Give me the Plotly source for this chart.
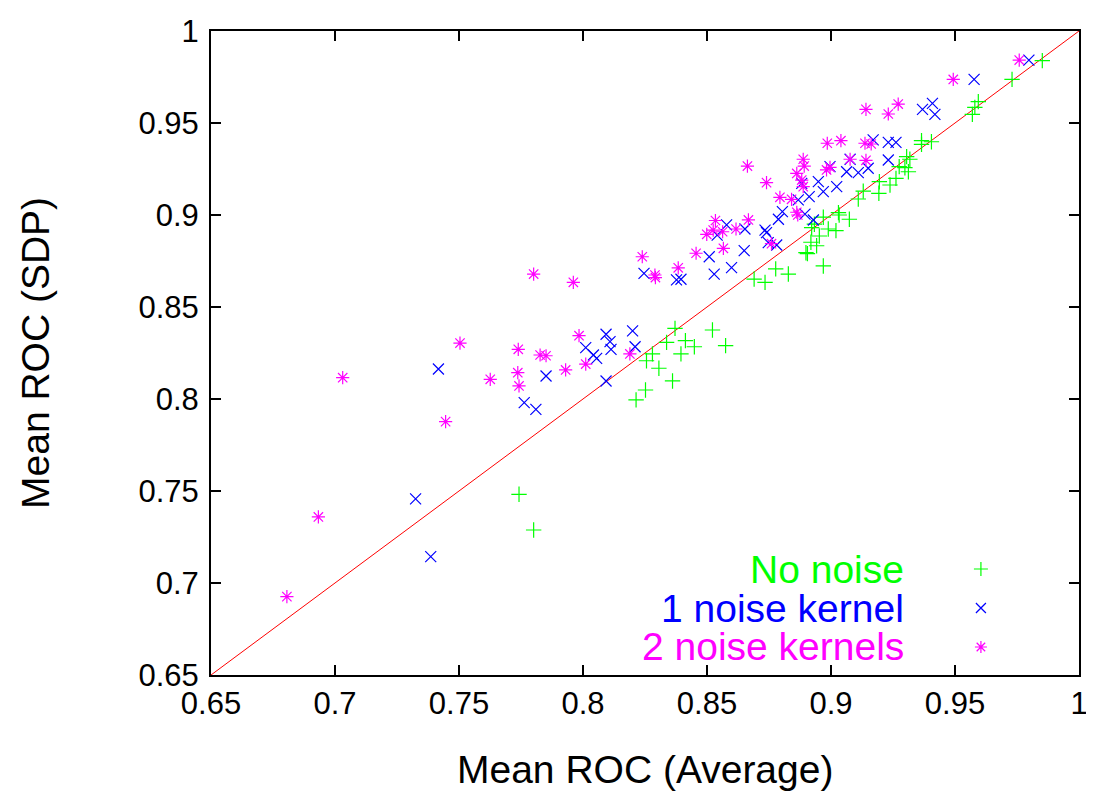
import plotly.graph_objects as go

# ---- data ----
no_noise_x = [0.7742, 0.7801, 0.8214, 0.8252, 0.8256, 0.8280, 0.8306, 0.8337, 0.8361, 0.8371,
              0.8395, 0.8413, 0.8449, 0.8522, 0.8575, 0.8690, 0.8734, 0.8777, 0.8828, 0.8899,
              0.8905, 0.8919, 0.8942, 0.8953, 0.8969, 0.8922, 0.8933, 0.8969, 0.8989, 0.9020,
              0.9030, 0.9033, 0.9074, 0.9110, 0.9130, 0.9195, 0.9193, 0.9238, 0.9262, 0.9275,
              0.9298, 0.9312, 0.9305, 0.9318, 0.9365, 0.9405, 0.9365, 0.9570, 0.9580, 0.9594,
              0.9730, 0.9852]
no_noise_y = [0.7482, 0.7288, 0.7995, 0.8049, 0.8208, 0.8245, 0.8167, 0.8308, 0.8098, 0.8384,
              0.8245, 0.8317, 0.8284, 0.8375, 0.8290, 0.8652, 0.8634, 0.8707, 0.8679, 0.8795,
              0.8790, 0.8852, 0.8833, 0.8886, 0.8723, 0.8931, 0.8950, 0.8988, 0.8924, 0.8915,
              0.9013, 0.9000, 0.8977, 0.9087, 0.9130, 0.9181, 0.9118, 0.9163, 0.9199, 0.9263,
              0.9257, 0.9235, 0.9317, 0.9303, 0.9404, 0.9398, 0.9384, 0.9547, 0.9585, 0.9616,
              0.9737, 0.9839]

one_kernel_x = [0.7386, 0.7325, 0.7417, 0.7763, 0.7810, 0.7851, 0.8011, 0.8042, 0.8055, 0.8093,
                0.8109, 0.8113, 0.8093, 0.8200, 0.8210, 0.8246, 0.8377, 0.8395, 0.8509, 0.8529,
                0.8541, 0.8579, 0.8599, 0.8650, 0.8653, 0.8734, 0.8740, 0.8747, 0.8781, 0.8788,
                0.8804, 0.8868, 0.8882, 0.8895, 0.8912, 0.8929, 0.8949, 0.8969, 0.8996, 0.9023,
                0.9063, 0.9077, 0.9110, 0.9150, 0.9170, 0.9231, 0.9262, 0.9231, 0.9369, 0.9409,
                0.9419, 0.9577, 0.9798]
one_kernel_y = [0.7143, 0.7457, 0.8163, 0.7980, 0.7944, 0.8125, 0.8279, 0.8239, 0.8221, 0.8352,
                0.8312, 0.8270, 0.8098, 0.8370, 0.8284, 0.8683, 0.8647, 0.8651, 0.8773, 0.8679,
                0.8891, 0.8946, 0.8714, 0.8806, 0.8924, 0.8918, 0.8904, 0.8850, 0.8837, 0.8977,
                0.9018, 0.9082, 0.9172, 0.9005, 0.9100, 0.8973, 0.9181, 0.9127, 0.9263, 0.9154,
                0.9235, 0.9303, 0.9230, 0.9254, 0.9408, 0.9395, 0.9395, 0.9299, 0.9574, 0.9607,
                0.9547, 0.9737, 0.9842]

two_kernels_x = [0.6806, 0.6933, 0.7031, 0.7446, 0.7504, 0.7626, 0.7737, 0.7739, 0.7742, 0.7801,
                 0.7827, 0.7851, 0.7930, 0.7961, 0.7984, 0.8011, 0.8189, 0.8239, 0.8290, 0.8292,
                 0.8384, 0.8456, 0.8499, 0.8525, 0.8534, 0.8563, 0.8566, 0.8617, 0.8663, 0.8667,
                 0.8740, 0.8760, 0.8794, 0.8841, 0.8862, 0.8862, 0.8866, 0.8882, 0.8888, 0.8888,
                 0.8892, 0.8982, 0.8996, 0.8985, 0.9040, 0.9077, 0.9137, 0.9162, 0.9141, 0.9141,
                 0.9231, 0.9271, 0.9493, 0.9759]
two_kernels_y = [0.6926, 0.7359, 0.8116, 0.7877, 0.8304, 0.8107, 0.8143, 0.8270, 0.8071, 0.8679,
                 0.8239, 0.8235, 0.8158, 0.8634, 0.8344, 0.8190, 0.8245, 0.8773, 0.8674, 0.8660,
                 0.8713, 0.8792, 0.8895, 0.8918, 0.8970, 0.8909, 0.8819, 0.8924, 0.9266, 0.8973,
                 0.9176, 0.8844, 0.9096, 0.9085, 0.9226, 0.9015, 0.9000, 0.9190, 0.9154, 0.9303,
                 0.9266, 0.9245, 0.9259, 0.9390, 0.9404, 0.9303, 0.9390, 0.9386, 0.9297, 0.9574,
                 0.9549, 0.9603, 0.9737, 0.9842]

series_names = ["No noise", "1 noise kernel", "2 noise kernels"]
series_colors = ["#00ff00", "#0000ff", "#ff00ff"]
series_symbols = ["cross-thin-open", "x-thin-open", "asterisk-open"]

tick_vals = [0.65, 0.7, 0.75, 0.8, 0.85, 0.9, 0.95, 1.0]
tick_text = ["0.65", "0.7", "0.75", "0.8", "0.85", "0.9", "0.95", "1"]
diag = [0.65, 1.0]

FONT = "Liberation Sans, Arial, sans-serif"

fig = go.Figure()

# diagonal
fig.add_trace(go.Scatter(x=diag, y=diag, mode="lines",
                         line=dict(color="#ff0000", width=1), showlegend=False,
                         hoverinfo="skip"))

data = [(no_noise_x, no_noise_y), (one_kernel_x, one_kernel_y), (two_kernels_x, two_kernels_y)]
for (xs, ys), name, col, sym in zip(data, series_names, series_colors, series_symbols):
    fig.add_trace(go.Scatter(x=xs, y=ys, mode="markers", name=name,
                             marker=dict(symbol=sym, size=11, color=col,
                                         line=dict(color=col, width=1.2)),
                             showlegend=False))

# key (gnuplot style: text then symbol on the right), on an overlay paper-like axis
key_y = [0.1646, 0.104, 0.0435]
for name, col, sym, ky in zip(series_names, series_colors, series_symbols, key_y):
    fig.add_trace(go.Scatter(x=[0.887], y=[ky], mode="markers", xaxis="x2", yaxis="y2",
                             marker=dict(symbol=sym, size=10, color=col,
                                         line=dict(color=col, width=1.2)),
                             showlegend=False, hoverinfo="skip"))
    fig.add_annotation(x=0.801, y=ky, xref="x2", yref="y2", text=name, showarrow=False,
                       xanchor="right", yanchor="middle",
                       font=dict(family=FONT, size=39, color=col))

# axis titles
fig.add_annotation(x=0.5, y=-0.1475, xref="paper", yref="paper", text="Mean ROC (Average)",
                   showarrow=False, xanchor="center", yanchor="middle",
                   font=dict(family=FONT, size=39, color="black"))
fig.add_annotation(x=-0.2028, y=0.5, xref="paper", yref="paper", text="Mean ROC (SDP)",
                   showarrow=False, xanchor="center", yanchor="middle", textangle=-90,
                   font=dict(family=FONT, size=39, color="black"))

axis_common = dict(
    range=[0.65, 1.0], tickvals=tick_vals, ticktext=tick_text, automargin=False,
    showgrid=False, zeroline=False, showline=True, linecolor="black", linewidth=2,
    mirror="ticks", ticks="inside", ticklen=10, tickwidth=1.5, tickcolor="black",
    tickfont=dict(family=FONT, size=31, color="black"),
)

fig.update_layout(
    width=1086, height=785,
    margin=dict(l=203, r=15, t=23, b=118, autoexpand=False),
    paper_bgcolor="white", plot_bgcolor="white",
    xaxis=dict(**axis_common),
    yaxis=dict(**axis_common, ticklabelstandoff=4),
    xaxis2=dict(range=[0, 1], overlaying="x", visible=False, automargin=False),
    yaxis2=dict(range=[0, 1], overlaying="y", visible=False, automargin=False),
    showlegend=False,
)

fig.write_html("out.html")
